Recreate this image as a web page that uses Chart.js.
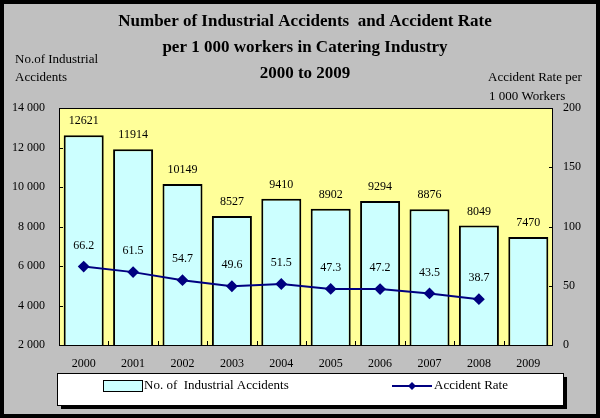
<!DOCTYPE html>
<html>
<head>
<meta charset="utf-8">
<script src="https://cdn.jsdelivr.net/npm/chart.js@4"></script>
<style>
  html, body { margin: 0; padding: 0; background: #000; }
  #wrap { position: absolute; left: 4px; top: 4px; width: 592px; height: 410px; }
</style>
</head>
<body>
<div id="wrap"><canvas id="accChart" width="592" height="410"></canvas></div>
<script>
// chart data
var years = ['2000', '2001', '2002', '2003', '2004', '2005', '2006', '2007', '2008', '2009']
var accidents = [12621, 11914, 10149, 8527, 9410, 8902, 9294, 8876, 8049, 7470]
var accidentRate = [66.2, 61.5, 54.7, 49.6, 51.5, 47.3, 47.2, 43.5, 38.7, null]
var titleLines = ['Number of Industrial Accidents  and Accident Rate', 'per 1 000 workers in Catering Industry', '2000 to 2009']
var leftTitle = ['No.of Industrial', 'Accidents']
var rightTitle = ['Accident Rate per', '1 000 Workers']

var serif = '"Liberation Serif", "Times New Roman", serif'
var navy = '#000080'

function spaced(v) {
    return String(v).replace(/\B(?=(\d{3})+(?!\d))/g, ' ')
}

// gray background + yellow plot area
var bgPlugin = {
    id: 'bg',
    beforeDraw: function (chart) {
        var ctx = chart.ctx, a = chart.chartArea
        ctx.save()
        ctx.fillStyle = '#C0C0C0'
        ctx.fillRect(0, 0, chart.width, chart.height)
        ctx.fillStyle = '#FFFF99'
        ctx.fillRect(a.left, a.top, a.right - a.left, a.bottom - a.top)
        ctx.restore()
    }
}

// titles, value labels, frame, inner ticks, legend box
var decoPlugin = {
    id: 'deco',
    afterDatasetsDraw: function (chart) {
        var ctx = chart.ctx, a = chart.chartArea
        ctx.save()
        // frame
        ctx.strokeStyle = '#000'
        ctx.lineWidth = 1
        ctx.strokeRect(a.left + 0.5, a.top + 0.5, a.right - a.left - 1, a.bottom - a.top)
        // inner ticks
        var yl = chart.scales.y, yr = chart.scales.y1, xs = chart.scales.x
        ctx.beginPath()
        yl.ticks.forEach(function (t) {
            var py = Math.round(yl.getPixelForValue(t.value)) + 0.5
            ctx.moveTo(a.left, py); ctx.lineTo(a.left + 4, py)
        })
        yr.ticks.forEach(function (t) {
            var py = Math.round(yr.getPixelForValue(t.value)) + 0.5
            ctx.moveTo(a.right - 4, py); ctx.lineTo(a.right, py)
        })
        for (var i = 1; i < years.length; i++) {
            var px = Math.round((xs.getPixelForValue(i - 1) + xs.getPixelForValue(i)) / 2) + 0.5
            ctx.moveTo(px, a.bottom); ctx.lineTo(px, a.bottom - 4)
        }
        ctx.stroke()

        // value labels
        ctx.fillStyle = '#000'
        ctx.font = '12px ' + serif
        ctx.textAlign = 'center'
        ctx.textBaseline = 'middle'
        chart.getDatasetMeta(0).data.forEach(function (el, i) {
            ctx.fillText(String(accidents[i]), el.x, el.y - 14)
        })
        chart.getDatasetMeta(1).data.forEach(function (el, i) {
            if (accidentRate[i] == null) return
            ctx.fillText(accidentRate[i].toFixed(1), el.x, el.y - 21)
        })

        // main title
        ctx.font = 'bold 17px ' + serif
        titleLines.forEach(function (t, i) {
            ctx.fillText(t, 301, 18 + i * 26)
        })
        // axis titles
        ctx.font = '13px ' + serif
        ctx.textAlign = 'left'
        ctx.fillText(leftTitle[0], 11, 56)
        ctx.fillText(leftTitle[1], 11, 74)
        ctx.fillText(rightTitle[0], 484, 74)
        ctx.fillText(rightTitle[1], 485, 93)

        // legend box with shadow
        var lx = 53, ly = 369, lw = 506, lh = 32
        ctx.fillStyle = '#000'
        ctx.fillRect(lx + 4, ly + 4, lw, lh)
        ctx.fillStyle = '#fff'
        ctx.fillRect(lx, ly, lw, lh)
        ctx.strokeRect(lx + 0.5, ly + 0.5, lw, lh)
        var ds = chart.data.datasets
        // bar item
        ctx.fillStyle = '#CCFFFF'
        ctx.fillRect(99, 376, 39, 11)
        ctx.strokeStyle = '#000'
        ctx.strokeRect(99.5, 376.5, 39, 11)
        ctx.fillStyle = '#000'
        ctx.font = '13px ' + serif
        ctx.fillText(ds[0].label, 140, 382)
        // line item
        ctx.strokeStyle = navy
        ctx.lineWidth = 2
        ctx.beginPath()
        ctx.moveTo(388, 382); ctx.lineTo(428, 382)
        ctx.stroke()
        ctx.fillStyle = navy
        ctx.beginPath()
        ctx.moveTo(408, 378); ctx.lineTo(412, 382); ctx.lineTo(408, 386); ctx.lineTo(404, 382)
        ctx.closePath(); ctx.fill()
        ctx.fillStyle = '#000'
        ctx.fillText(ds[1].label, 430, 382)
        ctx.restore()
    }
}

var accChart = new Chart(document.getElementById('accChart'), {
    type: 'bar',
    plugins: [bgPlugin, decoPlugin],
    data: {
        labels: years,
        datasets: [{
            type: 'bar',
            label: 'No. of  Industrial Accidents',
            data: accidents,
            yAxisID: 'y',
            backgroundColor: '#CCFFFF',
            borderColor: '#000',
            borderWidth: 2,
            barPercentage: 0.81,
            categoryPercentage: 1,
            order: 1
        }, {
            type: 'line',
            label: 'Accident Rate',
            data: accidentRate,
            yAxisID: 'y1',
            borderColor: navy,
            backgroundColor: navy,
            borderWidth: 2,
            pointStyle: 'rectRot',
            pointRadius: 4.5,
            pointBackgroundColor: navy,
            pointBorderColor: navy,
            spanGaps: false,
            order: 0
        }]
    },
    options: {
        responsive: false,
        animation: false,
        layout: { padding: { top: 104, bottom: 44, left: 0, right: 0 } },
        plugins: {
            legend: { display: false },
            title: { display: false },
            tooltip: { enabled: false }
        },
        scales: {
            x: {
                grid: { display: false, drawTicks: false },
                border: { display: false },
                ticks: { color: '#000', font: { family: serif, size: 12 }, padding: 12, maxRotation: 0 },
                afterFit: function (s) { s.height = 25 }
            },
            y: {
                position: 'left',
                min: 2000, max: 14000,
                grid: { display: false, drawTicks: false },
                border: { display: false },
                ticks: {
                    stepSize: 2000, color: '#000', padding: 14,
                    font: { family: serif, size: 12 },
                    callback: function (v) { return spaced(v) }
                },
                afterFit: function (s) { s.width = 55 }
            },
            y1: {
                position: 'right',
                min: 0, max: 200,
                grid: { display: false, drawTicks: false },
                border: { display: false },
                ticks: { stepSize: 50, color: '#000', padding: 10, font: { family: serif, size: 12 } },
                afterFit: function (s) { s.width = 43 }
            }
        }
    }
})
</script>
</body>
</html>
